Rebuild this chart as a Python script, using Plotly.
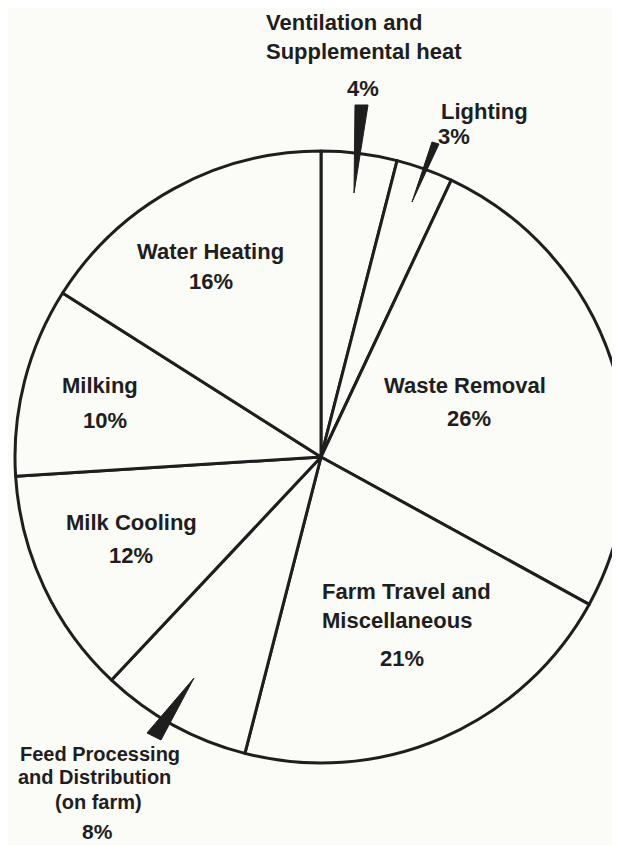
import plotly.graph_objects as go

categories = ["Ventilation and Supplemental heat", "Lighting", "Waste Removal",
              "Farm Travel and Miscellaneous", "Feed Processing and Distribution (on farm)",
              "Milk Cooling", "Milking", "Water Heating"]
values = [4, 3, 26, 21, 8, 12, 10, 16]

W, H = 620, 845
OFF = 8  # page body margin in the browser
BG = "#fbfbf7"
INK = "#1e1e1e"
FONT = "Liberation Sans, Arial, sans-serif"

def px(x):
    return (x - OFF) / W

def py(y):
    return 1 - (y - OFF) / H

cx, cy, r = 321, 457, 306

fig = go.Figure(go.Pie(
    labels=categories, values=values, sort=False, direction="clockwise", rotation=0,
    textinfo="none", hoverinfo="label+percent",
    marker=dict(colors=[BG] * len(values), line=dict(color=INK, width=3)),
    domain=dict(x=[px(cx - r), min(1.0, px(cx + r))], y=[py(cy + r), py(cy - r)]),
    showlegend=False,
))

# label texts: (text, x, y, anchor, size)
labels = [
    ("Ventilation and", 265, 23, "left", 22),
    ("Supplemental heat", 265, 52, "left", 22),
    ("4%", 363, 88, "center", 22),
    ("Lighting", 440, 111, "left", 22),
    ("3%", 437, 137, "left", 22),
    ("Water Heating", 211, 252, "center", 22),
    ("16%", 211, 282, "center", 22),
    ("Waste Removal", 465, 385, "center", 22),
    ("26%", 469, 418, "center", 22),
    ("Milking", 100, 386, "center", 22),
    ("10%", 105, 421, "center", 22),
    ("Milk Cooling", 131, 522, "center", 22),
    ("12%", 131, 555, "center", 22),
    ("Farm Travel and", 321, 591, "left", 22),
    ("Miscellaneous", 321, 620, "left", 22),
    ("21%", 402, 658, "center", 22),
    ("Feed Processing", 19, 754, "left", 20),
    ("and Distribution", 17, 777, "left", 20),
    ("(on farm)", 98, 802, "center", 20),
    ("8%", 97, 831, "center", 21),
]
for t, x, y, a, s in labels:
    fig.add_annotation(text=f"<b>{t}</b>", x=px(x), y=py(y), xref="paper", yref="paper",
                       xanchor=a, yanchor="middle", showarrow=False, borderpad=0,
                       font=dict(family=FONT, size=s, color=INK))

# callout wedges
wedges = [
    [(355, 105), (368, 105), (354, 193)],
    [(432, 142), (439, 144), (412, 202)],
    [(194, 678), (147, 733), (161, 740)],
]
for pts in wedges:
    path = "M " + " L ".join(f"{px(x):.5f},{py(y):.5f}" for x, y in pts) + " Z"
    fig.add_shape(type="path", path=path, xref="paper", yref="paper",
                  fillcolor=INK, line=dict(color=INK, width=1))

fig.update_layout(width=W, height=H, margin=dict(l=0, r=0, t=0, b=0),
                  paper_bgcolor=BG, plot_bgcolor=BG)
fig.write_html("out.html")
